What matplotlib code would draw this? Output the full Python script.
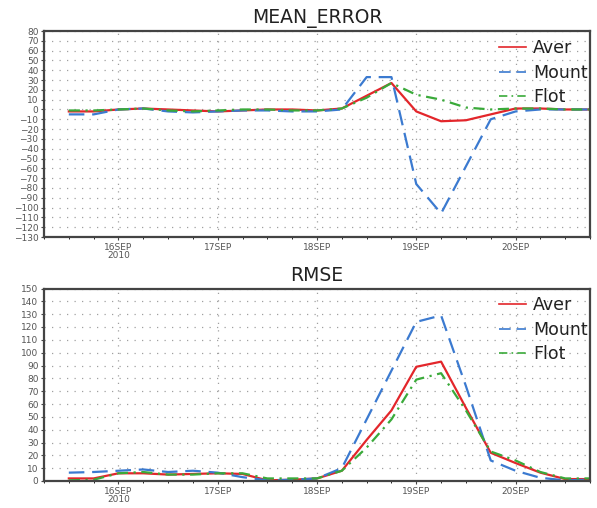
import matplotlib
matplotlib.use("Agg")
import matplotlib.pyplot as plt
import numpy as np

# time axis: day of September 2010, every 6 hours
times = [15.5, 15.75, 16.0, 16.25, 16.5, 16.75, 17.0, 17.25, 17.5, 17.75, 18.0,
         18.25, 18.5, 18.75, 19.0, 19.25, 19.5, 19.75, 20.0, 20.25, 20.5, 20.75]

me_aver = [-2, -2, 0, 1, 0, -1, -2, -1, 0, 0, -1, 1, 14, 27, -2, -12, -11, -5, 1, 1, 0, 0]
me_mount = [-5, -5, 0, 1, -2, -3, -2, -1, -1, -2, -2, 0, 33, 33, -76, -106, -58, -10, -2, 0, 0, 0]
me_flot = [-1, -1, 0, 1, -1, -2, -1, 0, 0, -1, -1, 1, 12, 27, 15, 10, 2, 0, 1, 1, 0, 0]

rmse_aver = [2, 2, 6, 6, 5, 5.5, 6, 5.5, 0.5, 1, 2, 8, 32, 55, 89, 93, 57, 22, 14, 6.5, 1.5, 1.5]
rmse_mount = [6.5, 7, 8, 9, 7, 8, 6.5, 3, 0.5, 1, 2, 10, 48, 86, 124, 129, 74, 16, 8, 2.5, 0.5, 1]
rmse_flot = [0.5, 1, 6, 7, 5, 5, 6, 6, 2, 2, 2, 8, 26, 48, 79, 84, 55, 23, 16, 7, 2, 2]

series_names = ["Aver", "Mount", "Flot"]
day_ticks = [16, 17, 18, 19, 20]
day_labels = ["16SEP\n2010", "17SEP", "18SEP", "19SEP", "20SEP"]

W, H = 597, 508
fig = plt.figure(figsize=(W / 100, H / 100), dpi=100)

colors = ["#e3262b", "#3b7ad0", "#3aaa3a"]
styles = ["-", (0, (7, 3.5)), (0, (5, 2.5, 1, 2.5))]

def make_ax(rect_px, ylim, yticks, title, data, legend_y):
    x0, y0, x1, y1 = rect_px
    ax = fig.add_axes([x0 / W, 1 - y1 / H, (x1 - x0) / W, (y1 - y0) / H])
    for vals, name, c, ls in zip(data, series_names, colors, styles):
        ax.plot(times, vals, color=c, linestyle=ls, lw=1.6, label=name)
    ax.set_xlim(15.25, 20.75)
    ax.set_ylim(*ylim)
    ax.set_yticks(yticks)
    ax.set_xticks(day_ticks)
    ax.set_xticklabels(day_labels, linespacing=0.95)
    ax.set_xticks(np.arange(15.25, 20.76, 0.25), minor=True)
    ax.tick_params(axis="both", labelsize=6.5, labelcolor="#555555", color="#444444",
                   length=2.5, width=0.8, pad=1.5)
    ax.tick_params(axis="x", which="minor", length=1.5, width=0.6)
    ax.tick_params(axis="x", which="major", length=2, pad=2)
    ax.grid(True, which="major", color="#a0a0a0", linestyle=(0, (1, 5)), lw=0.9)
    for s in ax.spines.values():
        s.set_color("#444444")
        s.set_linewidth(1.6)
    ax.set_title(title, fontsize=13.5, color="#222222", pad=5.5)
    leg = ax.legend(loc="upper left", bbox_to_anchor=(499 / W, 1 - legend_y / H),
                    bbox_transform=fig.transFigure, frameon=False, fontsize=12.5,
                    handlelength=1.55, handletextpad=0.42, labelspacing=0.38,
                    borderpad=0, borderaxespad=0)
    for t in leg.get_texts():
        t.set_color("#222222")
    for l in leg.get_lines():
        l.set_linewidth(1.2)
    return ax

make_ax((44, 31, 590, 237), (-130, 80), np.arange(-130, 81, 10), "MEAN_ERROR",
        [me_aver, me_mount, me_flot], 39)
make_ax((44, 288.5, 590, 481), (0, 150), np.arange(0, 151, 10), "RMSE",
        [rmse_aver, rmse_mount, rmse_flot], 296)

fig.savefig("out.png", dpi=100)
